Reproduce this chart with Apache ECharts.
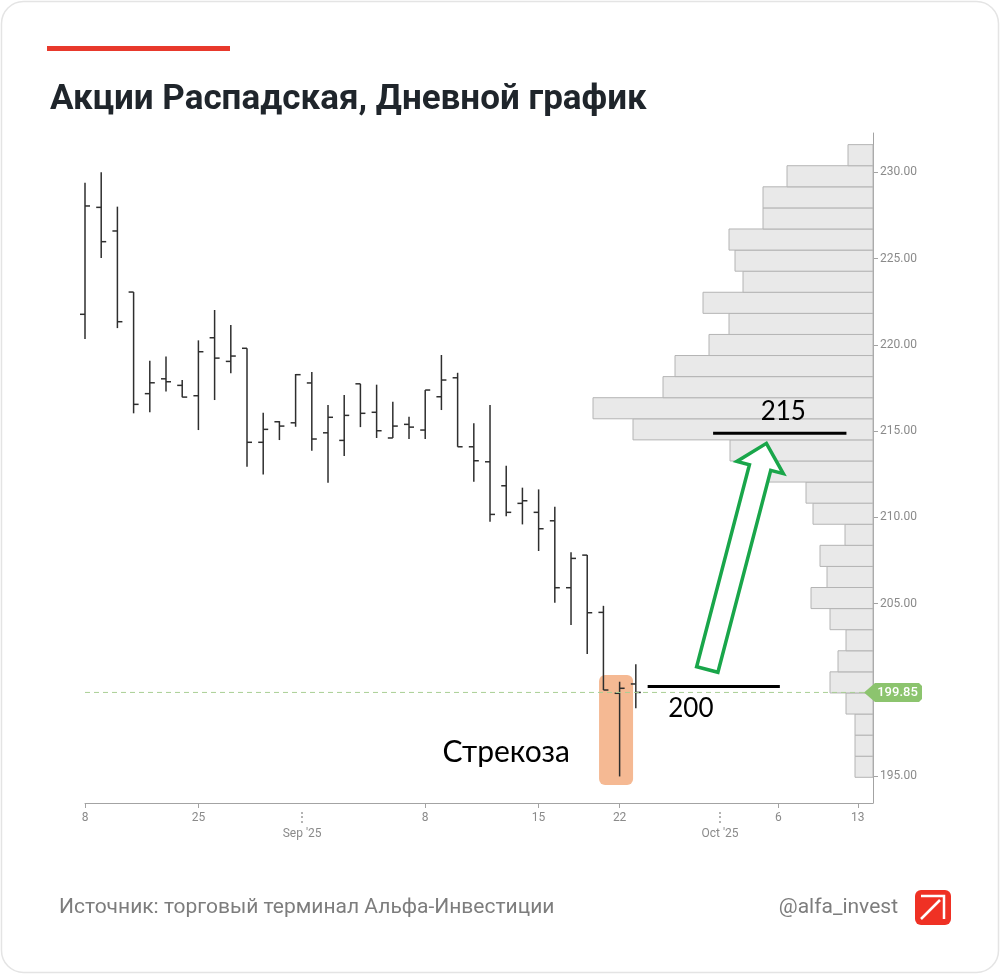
<!DOCTYPE html>
<html>
<head>
<meta charset="utf-8">
<script src="https://cdn.jsdelivr.net/npm/echarts@6/dist/echarts.min.js"></script>
<style>
html,body{margin:0;padding:0;background:#fff;}
#chart{width:1000px;height:974px;}
</style>
</head>
<body>
<div id="chart"></div>
<script>
// ---- DATA ----
// daily OHLC bars, index 0..34
const opens  = [221.77,227.97,226.60,223.06,217.17,218.03,217.65,217.05,220.41,219.04,219.80,214.35,215.54,215.48,217.79,214.90,214.46,217.74,216.09,214.60,215.39,215.06,216.99,218.09,214.09,213.22,211.83,210.81,210.29,209.80,205.92,207.81,204.49,199.80,200.34];
const highs  = [229.40,230.00,228.01,223.06,219.08,219.33,217.96,220.26,222.02,221.15,219.80,216.06,215.58,218.31,218.42,216.51,217.09,217.74,217.69,216.70,215.83,217.38,219.41,218.38,215.45,216.51,212.99,211.72,211.62,210.61,207.97,207.81,204.87,200.47,201.48];
const lows   = [220.34,225.03,220.97,216.03,216.09,217.30,216.96,215.06,216.80,218.35,212.93,212.49,214.48,215.25,213.86,212.01,213.55,215.23,214.60,214.60,214.54,214.54,216.22,214.09,212.06,209.74,210.07,209.59,208.05,205.05,203.76,202.08,199.99,194.98,198.93];
const closes = [228.05,225.98,221.34,216.55,217.80,217.86,216.97,219.60,219.23,219.35,214.35,215.10,215.29,218.27,214.54,215.80,215.91,216.03,215.02,215.29,215.23,217.38,217.96,214.09,213.28,210.17,210.29,210.96,209.34,205.92,207.62,204.47,199.99,200.09,199.85];
const lastPrice = 199.85;

// volume profile (bottom bin first)
const profileLow = 194.93;
const profileStep = 1.2225;
const profileVolumes = [18,18,18,27,43,35,27,43,62,46,53,28,60,67,108,143,240,280,210,198,164,144,170,130,138,144,110,110,86,25];

// x-axis ticks (bar-index units) and labels
const xTickPos    = [0, 7, 13.4, 21, 28, 33, 39.2, 42.8, 47.7];
const xTickLabels = ['8', '25', "Sep '25", '8', '15', '22', "Oct '25", '6', '13'];
const xMonthTick  = [false, false, true, false, false, false, true, false, false];
// y-axis ticks
const yTickValues = [195, 205, 210, 215, 220, 225, 230];

// annotations (data units: bar index, price)
const levelLines = [
  { x0: 34.73, x1: 42.89, price: 200.2, text: '200', tx: 37.4, ty: 198.9 },
  { x0: 38.77, x1: 47.0, price: 214.87, text: '215', tx: 43.1, ty: 216.15 }
];
const arrowFrom = [38.41, 201.18];
const arrowTo = [42.06, 214.29];
const highlightBox = { x0: 31.73, x1: 33.83, y0: 194.48, y1: 200.86 };
const patternLabel = { text: 'Стрекоза', x: 26.0, y: 196.4 };

// ---- CHART ----
const X_MAX = 48.64, Y_MIN = 193.44, Y_MAX = 232.28;
const chart = echarts.init(document.getElementById('chart'), null, { renderer: 'canvas' });

const ohlcData = opens.map((o, i) => [i, o, highs[i], lows[i], closes[i]]);
const profileData = profileVolumes.map((v, i) => [profileLow + i * profileStep, profileLow + (i + 1) * profileStep, v]);

function tickIndex(v) {
  for (let i = 0; i < xTickPos.length; i++) if (Math.abs(xTickPos[i] - v) < 1e-6) return i;
  return -1;
}

const option = {
  animation: false,
  backgroundColor: '#ffffff',
  title: {
    text: 'Акции Распадская, Дневной график',
    left: 45, top: 78,
    textStyle: { fontFamily: 'Roboto', fontWeight: 'bold', fontSize: 35, color: '#1f252b' }
  },
  grid: { left: 85, right: 127, top: 133, bottom: 171 },
  xAxis: [
    {
      type: 'value', min: 0, max: X_MAX,
      axisLine: { show: true, onZero: false, lineStyle: { color: '#a3a3a3', width: 1 } },
      axisTick: { show: true, customValues: xTickPos.filter((p, i) => !xMonthTick[i]), length: 5, lineStyle: { color: '#a3a3a3' } },
      axisLabel: {
        show: true, customValues: xTickPos, margin: 7,
        color: '#8a8a8a', fontFamily: 'Roboto', fontSize: 12, lineHeight: 16,
        formatter: v => { const i = tickIndex(v); if (i < 0) return ''; return xMonthTick[i] ? '⋮\n' + xTickLabels[i] : xTickLabels[i]; }
      },
      splitLine: { show: false }
    },
    { type: 'value', min: 0, max: 788, inverse: true, show: false, axisLine: { onZero: false } }
  ],
  yAxis: {
    type: 'value', position: 'right', min: Y_MIN, max: Y_MAX,
    axisLine: { show: true, onZero: false, lineStyle: { color: '#a3a3a3', width: 1 } },
    axisTick: { show: true, customValues: yTickValues, length: 5, lineStyle: { color: '#a3a3a3' } },
    axisLabel: { show: true, customValues: yTickValues, margin: 7, color: '#8a8a8a', fontFamily: 'Roboto', fontSize: 12, formatter: v => v.toFixed(2) },
    splitLine: { show: false }
  },
  series: [
    {
      name: 'profile', type: 'custom', xAxisIndex: 1, yAxisIndex: 0, z: 1,
      data: profileData, encode: { x: 2, y: [0, 1] },
      renderItem: (params, api) => {
        const p0 = api.coord([0, api.value(0)]);
        const p1 = api.coord([api.value(2), api.value(1)]);
        return { type: 'rect', shape: { x: p1[0], y: p1[1], width: p0[0] - p1[0], height: p0[1] - p1[1] },
          style: { fill: '#e9e9e9', stroke: '#b4b4b4', lineWidth: 1 } };
      }
    },
    {
      name: 'highlight', type: 'custom', z: 2,
      data: [[highlightBox.x0, highlightBox.y0, highlightBox.x1, highlightBox.y1]], encode: { x: [0, 2], y: [1, 3] },
      renderItem: (params, api) => {
        const a = api.coord([api.value(0), api.value(3)]);
        const b = api.coord([api.value(2), api.value(1)]);
        return { type: 'rect', shape: { x: a[0], y: a[1], width: b[0] - a[0], height: b[1] - a[1], r: 6 },
          style: { fill: '#f5b993' } };
      }
    },
    {
      name: 'ohlc', type: 'custom', z: 3,
      data: ohlcData, encode: { x: 0, y: [1, 2, 3, 4] },
      renderItem: (params, api) => {
        const x = api.value(0);
        const pO = api.coord([x, api.value(1)]);
        const pH = api.coord([x, api.value(2)]);
        const pL = api.coord([x, api.value(3)]);
        const pC = api.coord([x, api.value(4)]);
        const st = { stroke: '#2e2e2e', lineWidth: 1.5 };
        const t = 5;
        return { type: 'group', children: [
          { type: 'line', shape: { x1: pH[0], y1: pH[1], x2: pL[0], y2: pL[1] }, style: st },
          { type: 'line', shape: { x1: pO[0] - t, y1: pO[1], x2: pO[0], y2: pO[1] }, style: st },
          { type: 'line', shape: { x1: pC[0], y1: pC[1], x2: pC[0] + t, y2: pC[1] }, style: st }
        ] };
      }
    },
    {
      name: 'last', type: 'custom', z: 4,
      data: [[X_MAX, lastPrice]], encode: { x: 0, y: 1 },
      renderItem: (params, api) => {
        const pr = api.value(1);
        const l = api.coord([0, pr]);
        const r = api.coord([X_MAX, pr]);
        const y = r[1];
        const tip = r[0] - 9, bx = r[0] - 2, bw = 51, h = 19;
        return { type: 'group', children: [
          { type: 'line', shape: { x1: l[0], y1: y, x2: tip, y2: y }, style: { stroke: '#a9cf95', lineWidth: 1, lineDash: [5, 4] } },
          { type: 'polygon', shape: { points: [[tip, y], [bx + 4, y - h / 2], [bx + bw - 3, y - h / 2], [bx + bw, y - h / 2 + 3], [bx + bw, y + h / 2 - 3], [bx + bw - 3, y + h / 2], [bx + 4, y + h / 2]] },
            style: { fill: '#8cc46e' } },
          { type: 'text', style: { text: pr.toFixed(2), x: bx + bw / 2 + 1, y: y, align: 'center', verticalAlign: 'middle', fill: '#ffffff', fontFamily: 'Roboto', fontSize: 13, fontWeight: 500 } }
        ] };
      }
    },
    {
      name: 'annotations', type: 'custom', z: 5,
      data: [[0, Y_MIN]], encode: { x: 0, y: 1 },
      renderItem: (params, api) => {
        const children = [];
        levelLines.forEach(lv => {
          const a = api.coord([lv.x0, lv.price]);
          const b = api.coord([lv.x1, lv.price]);
          children.push({ type: 'line', shape: { x1: a[0], y1: a[1], x2: b[0], y2: b[1] }, style: { stroke: '#000', lineWidth: 3 } });
          const t = api.coord([lv.tx, lv.ty]);
          children.push({ type: 'text', style: { text: lv.text, x: t[0], y: t[1], align: 'center', verticalAlign: 'middle', fill: '#000', fontFamily: 'Lato', fontSize: 26 } });
        });
        const pl = api.coord([patternLabel.x, patternLabel.y]);
        children.push({ type: 'text', style: { text: patternLabel.text, x: pl[0], y: pl[1], align: 'center', verticalAlign: 'middle', fill: '#000', fontFamily: 'Lato', fontSize: 30 } });
        // hollow arrow
        const s = api.coord(arrowFrom), e = api.coord(arrowTo);
        const dx = e[0] - s[0], dy = e[1] - s[1], len = Math.hypot(dx, dy);
        const ux = dx / len, uy = dy / len, nx = -uy, ny = ux;
        const sw = 11, hw = 24, hl = 25;
        const bxp = e[0] - ux * hl, byp = e[1] - uy * hl;
        const pts = [
          [s[0] + nx * sw, s[1] + ny * sw],
          [bxp + nx * sw, byp + ny * sw],
          [bxp + nx * hw, byp + ny * hw],
          [e[0], e[1]],
          [bxp - nx * hw, byp - ny * hw],
          [bxp - nx * sw, byp - ny * sw],
          [s[0] - nx * sw, s[1] - ny * sw]
        ];
        children.push({ type: 'polygon', shape: { points: pts }, style: { fill: '#ffffff', stroke: '#19a64a', lineWidth: 3.5, lineJoin: 'miter' } });
        return { type: 'group', children };
      }
    }
  ],
  graphic: [
    { type: 'rect', shape: { x: 1.5, y: 1.5, width: 997, height: 971, r: 22 }, style: { fill: 'none', stroke: '#e4e4e4', lineWidth: 1.5 }, z: 0 },
    { type: 'rect', shape: { x: 47, y: 46, width: 183, height: 5 }, style: { fill: '#e8392c' } },
    { type: 'text', style: { text: 'Источник: торговый терминал Альфа-Инвестиции', x: 59, y: 908, verticalAlign: 'middle', fill: '#7d7d7d', fontFamily: 'Roboto', fontSize: 21 } },
    { type: 'text', style: { text: '@alfa_invest', x: 898, y: 908, align: 'right', verticalAlign: 'middle', fill: '#7d7d7d', fontFamily: 'Roboto', fontSize: 21 } },
    { type: 'rect', shape: { x: 915, y: 890, width: 36, height: 35, r: 6 }, style: { fill: '#ef3124' } },
    { type: 'polyline', shape: { points: [[921, 896], [944, 896], [944, 919]] }, style: { stroke: '#fff', lineWidth: 2.5, fill: 'none' } },
    { type: 'line', shape: { x1: 921, y1: 919, x2: 940, y2: 900 }, style: { stroke: '#fff', lineWidth: 2.5 } }
  ]
};
chart.setOption(option);
</script>
</body>
</html>
